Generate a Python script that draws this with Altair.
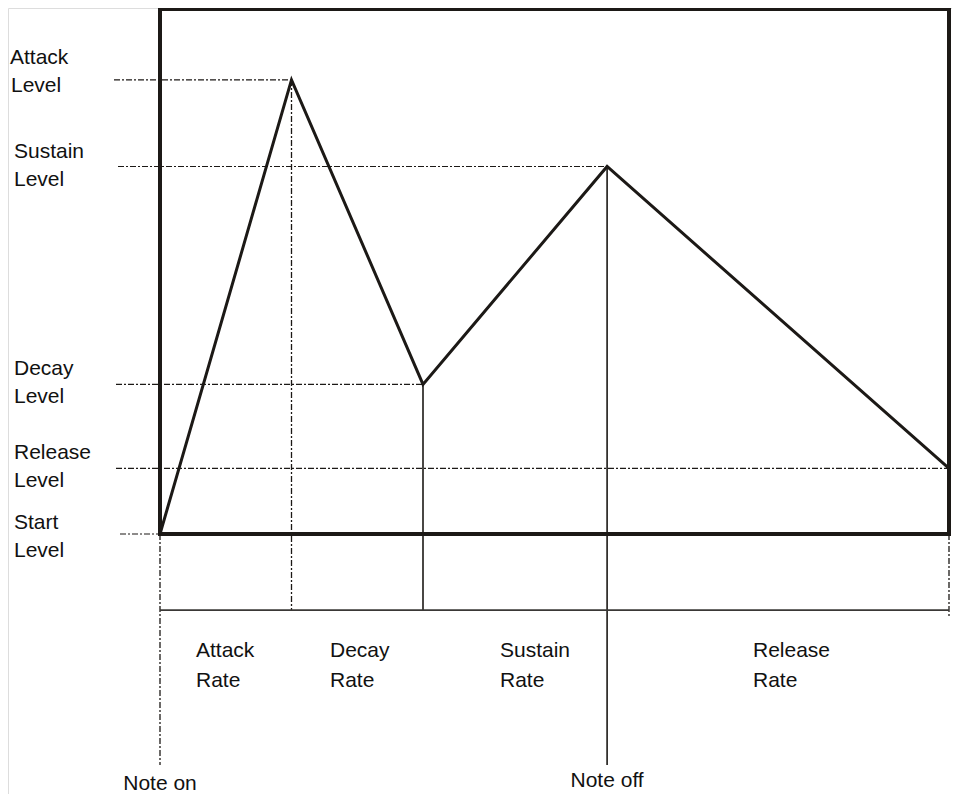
import altair as alt
import pandas as pd

# ---------------- data (envelope values, abstract units) ----------------
stage_names = ["Note on", "Attack peak", "Decay end", "Note off", "Release end"]
stage_times = [0.0, 1.0, 2.0, 3.4, 6.0]
stage_levels = [0.0, 0.865, 0.285, 0.7, 0.125]

level_names = ["Attack", "Sustain", "Decay", "Release", "Start"]
level_values = [0.865, 0.7, 0.285, 0.125, 0.0]
level_reach = [1.0, 3.4, 2.0, 6.0, 0.52]   # time where each dashed level line ends

rate_names = ["Attack", "Decay", "Sustain", "Release"]
note_names = ["Note on", "Note off"]
note_times = [0.0, 3.4]

# ---------------- layout ----------------
PXX, PXY = 131.5, 525.0          # pixels per unit
X0, Y0 = 160.0, 534.0            # pixel position of t=0 / level=0 (page coords)
W, H = 944, 786
XD = [(8 - X0) / PXX, (8 + W - X0) / PXX]
YD = [(Y0 - 8 - H) / PXY, (Y0 - 8) / PXY]

def xd(px):
    return (px - X0) / PXX

def yd(px):
    return (Y0 - px) / PXY

RATE_BASE = -0.145      # level of the horizontal rate line
NOTE_BOTTOM = -0.44     # lower end of note on / note off lines
LEFT_START = [xd(114), xd(118), xd(116), xd(116), xd(120)]
LABEL_X = [xd(10), xd(14), xd(14), xd(14), xd(14)]
LABEL_NUDGE = [-7, 0, 0, 0, 4]
RATE_X = [xd(196), xd(330), xd(500), xd(753)]

INK = "#1c1916"
FONT = "Liberation Sans"
FS = 21
DASH = [6, 2, 2, 2]

xs = lambda f: alt.X(f, type="quantitative", scale=alt.Scale(domain=XD, nice=False, zero=False), axis=None)
ys = lambda f: alt.Y(f, type="quantitative", scale=alt.Scale(domain=YD, nice=False, zero=False), axis=None)

# envelope
env = pd.DataFrame({"stage": stage_names, "t": stage_times, "level": stage_levels})
env_line = alt.Chart(env).mark_line(color=INK, strokeWidth=3, strokeJoin="miter").encode(
    x=xs("t"), y=ys("level"), order="t:Q")

# box
box_df = pd.DataFrame({"t0": [stage_times[0]], "t1": [stage_times[-1]], "l0": [0.0], "l1": [1.0]})
box = alt.Chart(box_df).mark_rect(fillOpacity=0, stroke=INK, strokeWidth=4).encode(
    x=xs("t0"), x2="t1", y=ys("l0"), y2="l1")

# dashed level lines
lv = pd.DataFrame({"name": level_names, "level": level_values, "x0": LEFT_START, "x1": level_reach})
level_lines = alt.Chart(lv).mark_rule(color=INK, strokeWidth=1.2, strokeDash=DASH).encode(
    x=xs("x0"), x2="x1", y=ys("level"))

# dashed verticals
dv = pd.DataFrame({
    "t": [stage_times[0], stage_times[1], stage_times[4]],
    "y0": [stage_levels[0], stage_levels[1], 0.0],
    "y1": [NOTE_BOTTOM, RATE_BASE, RATE_BASE - 0.012],
})
dash_v = alt.Chart(dv).mark_rule(color=INK, strokeWidth=1.3, strokeDash=DASH).encode(
    x=xs("t"), y=ys("y0"), y2="y1")

# solid verticals
sv = pd.DataFrame({
    "t": [stage_times[2], stage_times[3]],
    "y0": [stage_levels[2], stage_levels[3]],
    "y1": [RATE_BASE, NOTE_BOTTOM],
})
solid_v = alt.Chart(sv).mark_rule(color=INK, strokeWidth=1.6).encode(
    x=xs("t"), y=ys("y0"), y2="y1")

# rate baseline
rb = pd.DataFrame({"x0": [stage_times[0]], "x1": [stage_times[-1]], "y": [RATE_BASE]})
rate_line = alt.Chart(rb).mark_rule(color="#3a3836", strokeWidth=1.8).encode(
    x=xs("x0"), x2="x1", y=ys("y"))

# level labels (two lines)
rows = []
for name, lvl, lx, nud in zip(level_names, level_values, LABEL_X, LABEL_NUDGE):
    base_px = Y0 - lvl * PXY + nud
    rows.append({"text": name, "x": lx, "y": yd(base_px - 9)})
    rows.append({"text": "Level", "x": lx + (1.0 / PXX if name == "Attack" else 0.0), "y": yd(base_px + 19)})
for name, rx in zip(rate_names, RATE_X):
    rows.append({"text": name, "x": rx, "y": yd(657)})
    rows.append({"text": "Rate", "x": rx, "y": yd(687)})
lab = pd.DataFrame(rows)
labels = alt.Chart(lab).mark_text(align="left", baseline="alphabetic", font=FONT,
                                  fontSize=FS, color="#111111").encode(
    x=xs("x"), y=ys("y"), text="text:N")

nt = pd.DataFrame({"text": note_names, "t": note_times, "y": [yd(790), yd(787)]})
note_labels = alt.Chart(nt).mark_text(align="center", baseline="alphabetic", font=FONT,
                                      fontSize=FS, color="#111111").encode(
    x=xs("t"), y=ys("y"), text="text:N")

chart = alt.layer(level_lines, dash_v, solid_v, rate_line, box, env_line, labels, note_labels).properties(
    width=W, height=H, autosize=alt.AutoSizeParams(type="none"), padding=0
).configure_view(strokeWidth=0, stroke="transparent").configure(background="white")

chart.save("out.html", embed_options={"renderer": "svg", "actions": False})
